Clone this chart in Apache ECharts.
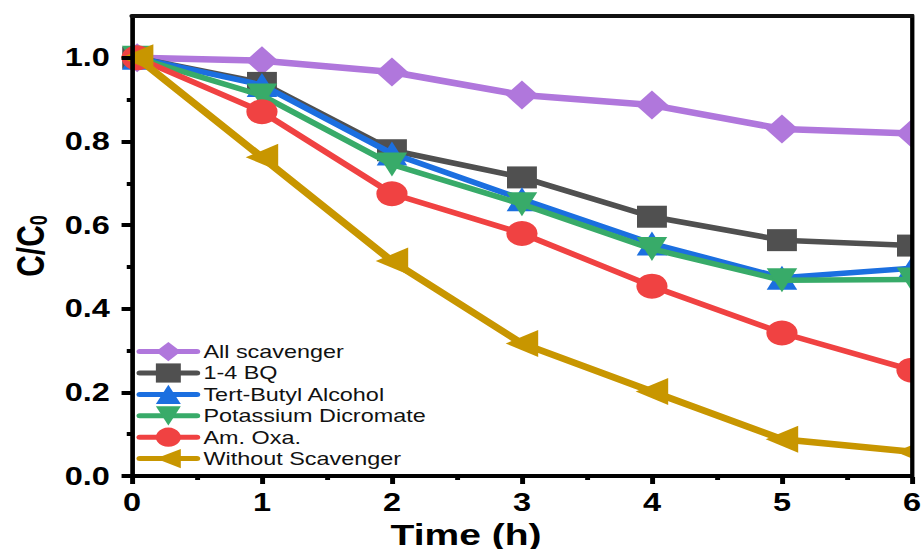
<!DOCTYPE html>
<html><head><meta charset="utf-8">
<script src="https://cdn.jsdelivr.net/npm/echarts@6/dist/echarts.min.js"></script>
<style>
html,body{margin:0;padding:0;background:#fff;overflow:hidden}
#c{width:711px;height:549px;transform:scaleX(1.3);transform-origin:0 0}
</style>
</head><body><div id="c"></div>
<script>
// ---- data ----
const times = [0.04, 1, 2, 3, 4, 5, 6];
const allScavenger = [1.0, 0.993, 0.966, 0.911, 0.887, 0.830, 0.819];
const bq14 = [1.0, 0.940, 0.779, 0.714, 0.620, 0.564, 0.551];
const tertButyl = [1.0, 0.935, 0.771, 0.662, 0.556, 0.474, 0.497];
const potassium = [1.0, 0.910, 0.745, 0.650, 0.543, 0.468, 0.470];
const amOxa = [1.0, 0.871, 0.675, 0.580, 0.454, 0.342, 0.253];
const withoutScav = [1.0, 0.762, 0.514, 0.317, 0.202, 0.088, 0.058];
const yTickValues = [0, 0.2, 0.4, 0.6, 0.8, 1.0];
const yMinorValues = [0.1, 0.3, 0.5, 0.7, 0.9];

const names = ['All scavenger','1-4 BQ','Tert-Butyl Alcohol','Potassium Dicromate','Am. Oxa.','Without Scavenger'];
const values = [allScavenger, bq14, tertButyl, potassium, amOxa, withoutScav];
const colors = ['#B077DC','#505050','#1B6FE0','#38AB69','#F04242','#C89600'];
const symbols = ['diamond','rect','triangle','triangle','circle','triangle'];
const sizes = [[25,29],[23,22],[23.5,24],[23.5,24],[24,25],[27,25]];
const rots = [0,0,0,180,0,90];
const widths = [6.5,5.5,5.5,5.5,5.5,6.5];

const gridL = 101.5, gridR = 9.5, gridT = 16, gridB = 73;
const W = 711, H = 549;

const chart = echarts.init(document.getElementById('c'), null, {renderer:'svg'});
const series = names.map((n,i)=>({
  name:n, type:'line', data: times.map((t,k)=>[t, values[i][k]]),
  symbol: symbols[i], symbolSize: sizes[i], symbolRotate: rots[i],
  lineStyle:{color:colors[i], width:widths[i], cap:'round', join:'round'},
  itemStyle:{color:colors[i]},
  z: 2 + i*0.01, animation:false
}));

const tickFont = {fontFamily:'Liberation Sans', fontWeight:'bold', fontSize:25, color:'#000'};
chart.setOption({
  animation:false,
  backgroundColor:'#fff',
  grid:{left:gridL, right:gridR, top:gridT, bottom:gridB, outerBoundsMode:'none', containLabel:false},
  legend:{
    left:105, top:342, padding:0, orient:'vertical', itemWidth:44, itemHeight:24, itemGap:2.2,
    lineStyle:{width:5, cap:'round'},
    textStyle:{fontFamily:'Liberation Sans', fontSize:18, color:'#111'},
    data:names
  },
  xAxis:[{
    type:'value', min:0, max:6, interval:1, z:5,
    name:'Time (h)', nameLocation:'middle', nameGap:30,
    nameTextStyle:{fontFamily:'Liberation Sans', fontWeight:'bold', fontSize:30, lineHeight:30, color:'#000', padding:[0,86,0,0]},
    axisLine:{show:true, onZero:false, lineStyle:{color:'#000', width:4}},
    axisTick:{show:true, length:8, lineStyle:{color:'#000', width:3.8}},
    minorTick:{show:true, splitNumber:2, length:4, lineStyle:{color:'#000', width:3.8}},
    axisLabel:Object.assign({margin:14}, tickFont),
    splitLine:{show:false}, minorSplitLine:{show:false}
  },{
    type:'value', position:'top', min:0, max:6, z:5,
    axisLine:{show:true, onZero:false, lineStyle:{color:'#111', width:4}},
    axisTick:{show:false}, axisLabel:{show:false}, splitLine:{show:false}
  }],
  yAxis:[{
    type:'value', min:0, max:1.1, z:5,
    name:'{a|C/C}{b|0}', nameLocation:'middle', nameGap:57, nameRotate:90,
    nameTextStyle:{rich:{
      a:{fontFamily:'Liberation Sans', fontWeight:'bold', fontSize:30, lineHeight:30, verticalAlign:'top', color:'#000'},
      b:{fontFamily:'Liberation Sans', fontWeight:'bold', fontSize:18, lineHeight:18, padding:[24,0,0,0], verticalAlign:'bottom', color:'#000'}
    }},
    axisLine:{show:true, onZero:false, lineStyle:{color:'#000', width:3.6}},
    axisTick:{show:true, length:8, customValues:yTickValues, lineStyle:{color:'#000', width:4}},
    axisLabel:Object.assign({margin:17, customValues:yTickValues, formatter:v=>Number(v).toFixed(1)}, tickFont),
    splitLine:{show:false}
  },{
    type:'value', min:0, max:1.1, position:'left', z:5,
    axisLine:{show:false},
    axisTick:{show:true, length:4, customValues:yMinorValues, lineStyle:{color:'#000', width:4}},
    axisLabel:{show:false}, splitLine:{show:false}
  },{
    type:'value', min:0, max:1.1, position:'right', z:5,
    axisLine:{show:true, onZero:false, lineStyle:{color:'#000', width:3.8}},
    axisTick:{show:false}, axisLabel:{show:false}, splitLine:{show:false}
  }],
  graphic:[{
    type:'rect', z:100, silent:true,
    shape:{x:W-gridR+1.9, y:0, width:20, height:H-gridB+1},
    style:{fill:'#fff'}
  }],
  series: series
});
</script></body></html>
